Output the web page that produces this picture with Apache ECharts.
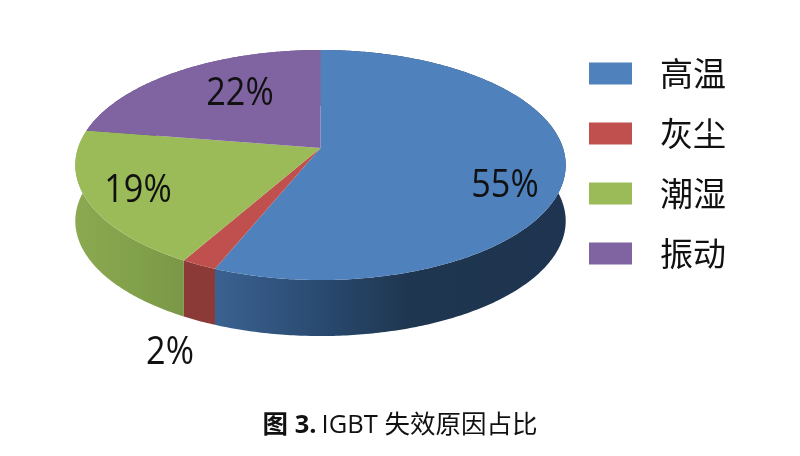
<!DOCTYPE html>
<html><head><meta charset="utf-8">
<style>html,body{margin:0;padding:0;background:#fff}#c{width:800px;height:456px}</style>
<script src="https://cdn.jsdelivr.net/npm/echarts@6/dist/echarts.min.js"></script>
</head><body><div id="c"></div>
<script>
const categories = ['高温', '灰尘', '潮湿', '振动'];
const values = [55, 2, 19, 22];
const topColors = ['#4f81bd', '#c0504d', '#9bbb59', '#8064a2'];
const sideStops = [
  [[0, '#3a6291'], [0.3, '#2a4a70'], [0.55, '#1f3650'], [1, '#1e3450']],
  [[0, '#8c3a38'], [1, '#8c3a38']],
  [[0, '#8aa950'], [0.6, '#81a04a'], [1, '#7b9747']],
  [[0, '#5f4a7a'], [1, '#5f4a7a']]
];
const labelPos = [[505, 186], [170, 353], [138, 191], [240, 94]];

const total = values.reduce((a, b) => a + b, 0);
const CX = 320.5, CY = 148, A = 242.5, B = 112.5, K = 0.148, DEPTH = 56;
function project(deg, r) {
  const t = deg * Math.PI / 180;
  const u = Math.sin(t) * r, v = Math.cos(t) * r, w = 1 + K * v;
  return [CX + A * u / w, CY - B * v / w];
}
function arc(a0, a1) {
  const pts = [], n = Math.max(4, Math.ceil(Math.abs(a1 - a0) * 1.5));
  for (let i = 0; i <= n; i++) pts.push(project(a0 + (a1 - a0) * i / n, 1));
  return pts;
}
let acc = 0;
const spans = values.map(v => { const s = [acc, acc + v / total * 360]; acc = s[1]; return s; });

function renderSlice(idx) {
  return function () {
    const pts = arc(spans[idx][0], spans[idx][1]);
    const lower = pts.map(p => [p[0], p[1] + DEPTH]).reverse();
    return {
      type: 'group',
      children: [
        { type: 'polygon', z2: 1, shape: { points: pts.concat(lower) },
          style: { fill: new echarts.graphic.LinearGradient(0, 0, 1, 0,
            sideStops[idx].map(s => ({ offset: s[0], color: s[1] }))) } },
        { type: 'polygon', z2: 10, shape: { points: [[CX, CY]].concat(pts) },
          style: { fill: topColors[idx] } },
        { type: 'text', z2: 20, x: labelPos[idx][0], y: labelPos[idx][1], scaleX: 0.9,
          style: { text: values[idx] + '%', fill: '#111', align: 'center', verticalAlign: 'middle',
            font: '38px "Open Sans", "Noto Sans", sans-serif' } }
      ]
    };
  };
}

const chart = echarts.init(document.getElementById('c'), null, { renderer: 'canvas' });
chart.setOption({
  animation: false,
  backgroundColor: '#fff',
  title: {
    text: '{b|图 3.} {n|IGBT 失效原因占比}',
    left: 'center', top: 408, itemGap: 0,
    textStyle: { rich: {
      b: { fontFamily: '"Open Sans","Noto Sans CJK SC"', fontWeight: 'bold', fontSize: 25.5, color: '#111' },
      n: { fontFamily: '"Open Sans","Noto Sans CJK SC"', fontWeight: 'normal', fontSize: 25.5, color: '#111' }
    } }
  },
  legend: {
    left: 584, top: 52, orient: 'vertical', itemWidth: 43, itemHeight: 22, itemGap: 27,
    icon: 'rect', selectedMode: false,
    data: categories,
    textStyle: { fontFamily: '"Noto Sans CJK SC"', fontSize: 33, color: '#111', padding: [0, 0, 0, 23] }
  },
  series: categories.map((name, i) => ({
    type: 'custom', name, coordinateSystem: 'none',
    itemStyle: { color: topColors[i] },
    data: [[values[i]]],
    renderItem: renderSlice(i)
  }))
});
</script></body></html>
